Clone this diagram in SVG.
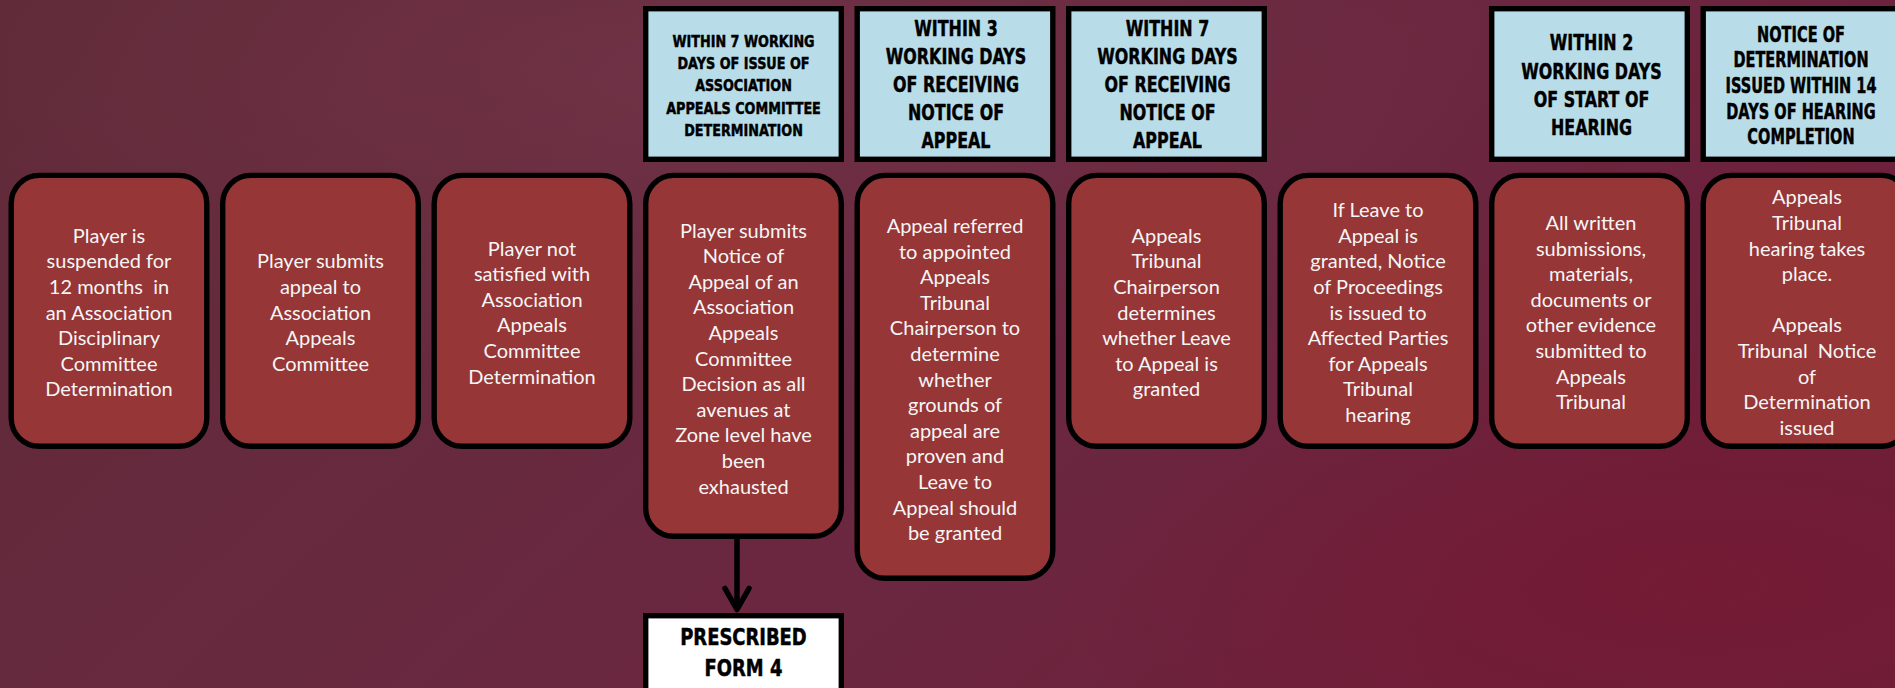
<svg xmlns="http://www.w3.org/2000/svg" width="1895" height="688" viewBox="0 0 1895 688">
<defs>
<linearGradient id="bg" x1="0" y1="0" x2="1" y2="0.4">
<stop offset="0" stop-color="#5f2a37"/>
<stop offset="0.35" stop-color="#662a3e"/>
<stop offset="0.7" stop-color="#6b2740"/>
<stop offset="1" stop-color="#6e1f3a"/>
</linearGradient>
<radialGradient id="glow" cx="0.35" cy="0.1" r="0.45">
<stop offset="0" stop-color="#7a3a4e" stop-opacity="0.45"/>
<stop offset="1" stop-color="#7a3a4e" stop-opacity="0"/>
</radialGradient>
<radialGradient id="glow2" cx="0.9" cy="0.85" r="0.35">
<stop offset="0" stop-color="#7a1530" stop-opacity="0.5"/>
<stop offset="1" stop-color="#7a1530" stop-opacity="0"/>
</radialGradient>
</defs>
<style>
.step{fill:#963636;stroke:#000;stroke-width:5.4}
.hdr{fill:#b8dde8;stroke:#000;stroke-width:5.4}
.form{fill:#fff;stroke:#000;stroke-width:5.4}
.t{font-family:Lato,"Open Sans","Liberation Sans",sans-serif;font-size:20px;fill:#f5f5f5;text-anchor:middle;white-space:pre}
.h{font-family:"DejaVu Sans","Liberation Sans",sans-serif;font-weight:bold;fill:#000;stroke:#000;stroke-width:0.5;text-anchor:middle}
.conn{fill:none;stroke:#000;stroke-width:5.5;stroke-linecap:round;stroke-linejoin:round}
</style>
<rect width="1895" height="688" fill="url(#bg)"/>
<rect width="1895" height="688" fill="url(#glow)"/>
<rect width="1895" height="688" fill="url(#glow2)"/>

<g id="step1">
<rect class="step" x="11.2" y="175.4" width="195.6" height="270.9" rx="28"/>
<text class="t" x="109" y="242.7"><tspan x="109">Player is</tspan><tspan x="109" dy="25.6">suspended for</tspan><tspan x="109" dy="25.6">12 months  in</tspan><tspan x="109" dy="25.6">an Association</tspan><tspan x="109" dy="25.6">Disciplinary</tspan><tspan x="109" dy="25.6">Committee</tspan><tspan x="109" dy="25.6">Determination</tspan></text>
</g>
<g id="step2">
<rect class="step" x="222.7" y="175.4" width="195.6" height="270.9" rx="28"/>
<text class="t" x="320.5" y="268.3"><tspan x="320.5">Player submits</tspan><tspan x="320.5" dy="25.6">appeal to</tspan><tspan x="320.5" dy="25.6">Association</tspan><tspan x="320.5" dy="25.6">Appeals</tspan><tspan x="320.5" dy="25.6">Committee</tspan></text>
</g>
<g id="step3">
<rect class="step" x="434.2" y="175.4" width="195.6" height="270.9" rx="28"/>
<text class="t" x="532" y="255.5"><tspan x="532">Player not</tspan><tspan x="532" dy="25.6">satisfied with</tspan><tspan x="532" dy="25.6">Association</tspan><tspan x="532" dy="25.6">Appeals</tspan><tspan x="532" dy="25.6">Committee</tspan><tspan x="532" dy="25.6">Determination</tspan></text>
</g>
<g id="header4">
<rect class="hdr" x="645.7" y="8.7" width="195.6" height="150.6"/>
<g transform="translate(743.5 0) scale(0.8 1)">
<text class="h" font-size="16" x="0" y="47"><tspan x="0">WITHIN 7 WORKING</tspan><tspan x="0" dy="22.2">DAYS OF ISSUE OF</tspan><tspan x="0" dy="22.2">ASSOCIATION</tspan><tspan x="0" dy="22.2">APPEALS COMMITTEE</tspan><tspan x="0" dy="22.2">DETERMINATION</tspan></text>
</g>
</g>
<g id="step4">
<rect class="step" x="645.7" y="175.4" width="195.6" height="360.9" rx="28"/>
<text class="t" x="743.5" y="237.5"><tspan x="743.5">Player submits</tspan><tspan x="743.5" dy="25.6">Notice of</tspan><tspan x="743.5" dy="25.6">Appeal of an</tspan><tspan x="743.5" dy="25.6">Association</tspan><tspan x="743.5" dy="25.6">Appeals</tspan><tspan x="743.5" dy="25.6">Committee</tspan><tspan x="743.5" dy="25.6">Decision as all</tspan><tspan x="743.5" dy="25.6">avenues at</tspan><tspan x="743.5" dy="25.6">Zone level have</tspan><tspan x="743.5" dy="25.6">been</tspan><tspan x="743.5" dy="25.6">exhausted</tspan></text>
</g>
<g id="form4">
<rect class="form" x="645.7" y="615.7" width="195.6" height="100"/>
<g transform="translate(743.5 0) scale(0.78 1)">
<text class="h" font-size="23" x="0" y="645"><tspan x="0">PRESCRIBED</tspan><tspan x="0" dy="31.3">FORM 4</tspan></text>
</g>
</g>
<g id="header5">
<rect class="hdr" x="857.2" y="8.7" width="195.6" height="150.6"/>
<g transform="translate(956 0) scale(0.74 1)">
<text class="h" font-size="21.5" x="0" y="36"><tspan x="0">WITHIN 3</tspan><tspan x="0" dy="27.9">WORKING DAYS</tspan><tspan x="0" dy="27.9">OF RECEIVING</tspan><tspan x="0" dy="27.9">NOTICE OF</tspan><tspan x="0" dy="27.9">APPEAL</tspan></text>
</g>
</g>
<g id="step5">
<rect class="step" x="857.2" y="175.4" width="195.6" height="402.9" rx="28"/>
<text class="t" x="955" y="232.9"><tspan x="955">Appeal referred</tspan><tspan x="955" dy="25.6">to appointed</tspan><tspan x="955" dy="25.6">Appeals</tspan><tspan x="955" dy="25.6">Tribunal</tspan><tspan x="955" dy="25.6">Chairperson to</tspan><tspan x="955" dy="25.6">determine</tspan><tspan x="955" dy="25.6">whether</tspan><tspan x="955" dy="25.6">grounds of</tspan><tspan x="955" dy="25.6">appeal are</tspan><tspan x="955" dy="25.6">proven and</tspan><tspan x="955" dy="25.6">Leave to</tspan><tspan x="955" dy="25.6">Appeal should</tspan><tspan x="955" dy="25.6">be granted</tspan></text>
</g>
<g id="header6">
<rect class="hdr" x="1068.7" y="8.7" width="195.6" height="150.6"/>
<g transform="translate(1167.5 0) scale(0.74 1)">
<text class="h" font-size="21.5" x="0" y="36"><tspan x="0">WITHIN 7</tspan><tspan x="0" dy="27.9">WORKING DAYS</tspan><tspan x="0" dy="27.9">OF RECEIVING</tspan><tspan x="0" dy="27.9">NOTICE OF</tspan><tspan x="0" dy="27.9">APPEAL</tspan></text>
</g>
</g>
<g id="step6">
<rect class="step" x="1068.7" y="175.4" width="195.6" height="270.9" rx="28"/>
<text class="t" x="1166.5" y="242.7"><tspan x="1166.5">Appeals</tspan><tspan x="1166.5" dy="25.6">Tribunal</tspan><tspan x="1166.5" dy="25.6">Chairperson</tspan><tspan x="1166.5" dy="25.6">determines</tspan><tspan x="1166.5" dy="25.6">whether Leave</tspan><tspan x="1166.5" dy="25.6">to Appeal is</tspan><tspan x="1166.5" dy="25.6">granted</tspan></text>
</g>
<g id="step7">
<rect class="step" x="1280.2" y="175.4" width="195.6" height="270.9" rx="28"/>
<text class="t" x="1378" y="217.1"><tspan x="1378">If Leave to</tspan><tspan x="1378" dy="25.6">Appeal is</tspan><tspan x="1378" dy="25.6">granted, Notice</tspan><tspan x="1378" dy="25.6">of Proceedings</tspan><tspan x="1378" dy="25.6">is issued to</tspan><tspan x="1378" dy="25.6">Affected Parties</tspan><tspan x="1378" dy="25.6">for Appeals</tspan><tspan x="1378" dy="25.6">Tribunal</tspan><tspan x="1378" dy="25.6">hearing</tspan></text>
</g>
<g id="header8">
<rect class="hdr" x="1491.7" y="8.7" width="195.6" height="150.6"/>
<g transform="translate(1591.5 0) scale(0.74 1)">
<text class="h" font-size="21.5" x="0" y="50.5"><tspan x="0">WITHIN 2</tspan><tspan x="0" dy="28.2">WORKING DAYS</tspan><tspan x="0" dy="28.2">OF START OF</tspan><tspan x="0" dy="28.2">HEARING</tspan></text>
</g>
</g>
<g id="step8">
<rect class="step" x="1491.7" y="175.4" width="195.6" height="270.9" rx="28"/>
<text class="t" x="1591" y="229.9"><tspan x="1591">All written</tspan><tspan x="1591" dy="25.6">submissions,</tspan><tspan x="1591" dy="25.6">materials,</tspan><tspan x="1591" dy="25.6">documents or</tspan><tspan x="1591" dy="25.6">other evidence</tspan><tspan x="1591" dy="25.6">submitted to</tspan><tspan x="1591" dy="25.6">Appeals</tspan><tspan x="1591" dy="25.6">Tribunal</tspan></text>
</g>
<g id="header9">
<rect class="hdr" x="1703.2" y="8.7" width="195.6" height="150.6"/>
<g transform="translate(1801 0) scale(0.71 1)">
<text class="h" font-size="20.5" x="0" y="41.8"><tspan x="0">NOTICE OF</tspan><tspan x="0" dy="25.6">DETERMINATION</tspan><tspan x="0" dy="25.6">ISSUED WITHIN 14</tspan><tspan x="0" dy="25.6">DAYS OF HEARING</tspan><tspan x="0" dy="25.6">COMPLETION</tspan></text>
</g>
</g>
<g id="step9">
<rect class="step" x="1703.2" y="175.4" width="206" height="270.9" rx="28"/>
<text class="t" x="1807" y="204.3"><tspan x="1807">Appeals</tspan><tspan x="1807" dy="25.6">Tribunal</tspan><tspan x="1807" dy="25.6">hearing takes</tspan><tspan x="1807" dy="25.6">place.</tspan><tspan x="1807" dy="51.2">Appeals</tspan><tspan x="1807" dy="25.6">Tribunal  Notice</tspan><tspan x="1807" dy="25.6">of</tspan><tspan x="1807" dy="25.6">Determination</tspan><tspan x="1807" dy="25.6">issued</tspan></text>
</g>

<g id="connectors">
<path class="conn" d="M737 539 V608"/>
<path class="conn" d="M725 588.5 L737 609.5 L749 588.5"/>
</g>
</svg>
